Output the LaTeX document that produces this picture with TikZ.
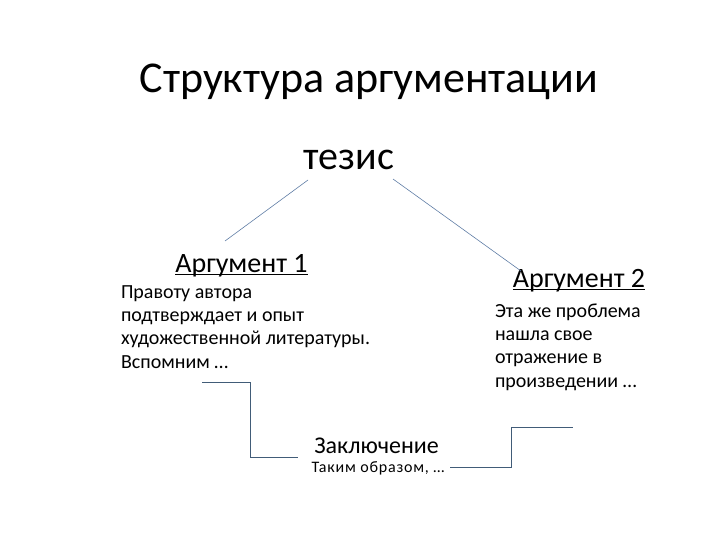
\documentclass[tikz,border=0pt]{standalone}
\usepackage{fontspec}
\setmainfont{Carlito}
\definecolor{linec}{RGB}{65,92,120}
\definecolor{linet}{RGB}{95,125,165}
\tikzset{
  lbl/.style={inner sep=0pt, outer sep=0pt},
  conn/.style={draw=linec, line width=0.8pt},
  thin conn/.style={draw=linet, line width=0.6pt},
  uline/.style={draw=black, line width=1.2pt},
  body/.style={lbl, anchor=base west, align=left, font=\fontsize{20}{23.3}\selectfont},
}
\begin{document}
\begin{tikzpicture}[x=1pt,y=-1pt]
\useasboundingbox (0,0) rectangle (720,540);
\node[lbl, anchor=base, font=\fontsize{44}{50}\selectfont] (title) at (369,93) {Структура аргументации};
\node[lbl, anchor=base, font=\fontsize{40}{46}\selectfont] (tezis) at (349,170) {тезис};
\node[lbl, anchor=base, font=\fontsize{28}{32}\selectfont] (a1) at (241.5,272) {Аргумент 1};
\node[lbl, anchor=base, font=\fontsize{28}{32}\selectfont] (a2) at (579,287) {Аргумент 2};
\node[body] (b1) at (121,368) {Правоту автора\\подтверждает и опыт\\художественной литературы.\\Вспомним …};
\node[body] (b2) at (495,387) {Эта же проблема\\нашла свое\\отражение в\\произведении …};
\node[lbl, anchor=base, font=\fontsize{24}{28}\selectfont] (zak) at (376.5,453) {Заключение};
\node[lbl, anchor=base, font=\fontsize{16}{19}\selectfont\addfontfeature{LetterSpace=5}] (tak) at (378,472) {Таким образом, …};
\draw[uline] ([yshift=-2.5]a1.base west) -- ([yshift=-2.5]a1.base east);
\draw[uline] ([yshift=-2.5]a2.base west) -- ([yshift=-2.5]a2.base east);
\coordinate (t1) at (308,180);
\coordinate (t2) at (393,179);
\coordinate (e1) at (225,241);
\coordinate (e2) at (521,271);
\draw[thin conn] (t1) -- (e1);
\draw[thin conn] (t2) -- (e2);
\coordinate (s1) at (202,382);
\coordinate (s2) at (298,457);
\draw[conn] (s1) -- (250,382) |- (s2);
\coordinate (r1) at (450,467);
\coordinate (r2) at (573,427);
\draw[conn] (r1) -- (511,467) |- (r2);
\end{tikzpicture}
\end{document}
